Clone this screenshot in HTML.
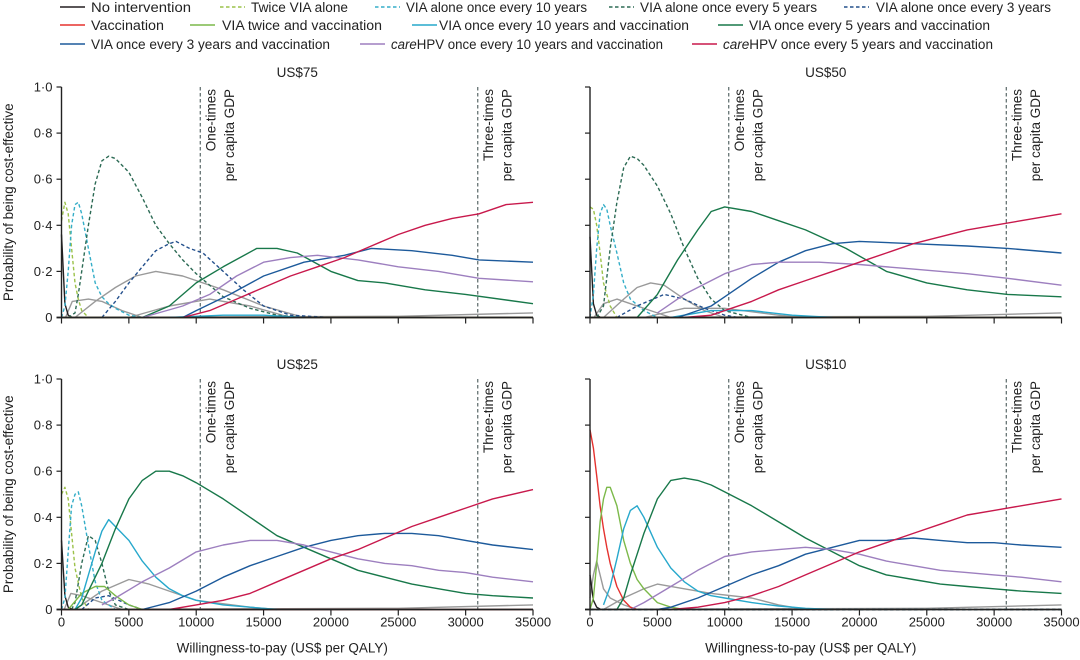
<!DOCTYPE html>
<html><head><meta charset="utf-8">
<style>
body{margin:0;background:#fff;}
svg{display:block;font-family:"Liberation Sans",sans-serif;}
</style></head>
<body>
<svg id="chart" width="1080" height="660" viewBox="0 0 1080 660" xmlns="http://www.w3.org/2000/svg">
<g id="legend" font-size="13.5" fill="#222"></g>
<g id="panels"></g>
</svg>
<script>
// ---------- data ----------
const xTicks = [0,5000,10000,15000,20000,25000,30000,35000];
const xTickLabels = ["0","5000","10000","15000","20000","25000","30000","35000"];
const yTicks = [0,0.2,0.4,0.6,0.8,1.0];
const yTickLabels = ["0","0·2","0·4","0·6","0·8","1·0"];
const gdpLines = [10300,30900];
const panelTitles = ["US$75","US$50","US$25","US$10"];

const seriesNames = ["No intervention","Twice VIA alone","VIA alone once every 10 years","VIA alone once every 5 years","VIA alone once every 3 years","Vaccination","VIA twice and vaccination","VIA once every 10 years and vaccination","VIA once every 5 years and vaccination","VIA once every 3 years and vaccination","careHPV once every 10 years and vaccination","careHPV once every 5 years and vaccination"];
const seriesColors = ["#231f20","#9cc24a","#35aec8","#2d6b55","#24508c","#e5322f","#7cb94a","#27a8cc","#18784a","#1d5a9b","#9d7fbf","#c8194c"];
const seriesDashed = [false,true,true,true,true,false,false,false,false,false,false,false];

// ---- US$75 ----
const p75_noInt = [[0,0.36],[250,0.06],[500,0.01],[800,0]];
const p75_twice = [[0,0.42],[250,0.5],[500,0.45],[750,0.3],[1000,0.15],[1250,0.08],[1500,0.03],[2000,0]];
const p75_via10 = [[0,0],[250,0.05],[500,0.2],[750,0.4],[1000,0.49],[1250,0.5],[1500,0.45],[2000,0.3],[2500,0.15],[3000,0.09],[3500,0.06],[4000,0.04],[5000,0.01],[6000,0]];
const p75_via5 = [[500,0],[1000,0.02],[1250,0.1],[1500,0.2],[2000,0.4],[2500,0.58],[3000,0.68],[3500,0.7],[4000,0.69],[5000,0.63],[6000,0.52],[7000,0.4],[8000,0.32],[9000,0.25],[10000,0.19],[12000,0.09],[14000,0.04],[16000,0.01],[18000,0]];
const p75_via3 = [[3000,0],[4000,0.07],[5000,0.15],[6000,0.22],[7000,0.29],[8000,0.32],[8500,0.33],[9500,0.3],[10500,0.28],[12000,0.2],[13500,0.12],[15000,0.05],[17000,0.01],[20000,0]];
const p75_vac = [[0,0],[35000,0]];
const p75_twiceVac = [[0,0],[35000,0]];
const p75_via10Vac = [[8000,0],[12000,0.01],[15000,0.01],[18000,0]];
const p75_via5Vac = [[6000,0],[8000,0.05],[10000,0.15],[12000,0.22],[14500,0.3],[16000,0.3],[17500,0.28],[20000,0.2],[22000,0.16],[24000,0.15],[27000,0.12],[30000,0.1],[35000,0.06]];
const p75_via3Vac = [[9000,0],[10000,0.03],[12500,0.1],[15000,0.18],[18000,0.24],[21000,0.27],[23000,0.3],[26000,0.29],[29000,0.27],[31000,0.25],[35000,0.24]];
const p75_hpv10 = [[6000,0],[9000,0.05],[11000,0.1],[13000,0.18],[15000,0.24],[17000,0.26],[19000,0.27],[22000,0.25],[25000,0.22],[28000,0.2],[31000,0.17],[35000,0.155]];
const p75_hpv5 = [[9000,0],[11000,0.03],[13000,0.08],[15000,0.13],[17000,0.18],[19000,0.22],[21000,0.26],[23000,0.31],[25000,0.36],[27000,0.4],[29000,0.43],[31000,0.45],[33000,0.49],[35000,0.5]];
const p75_grayA = [[1000,0],[2500,0.07],[4000,0.13],[5500,0.18],[7000,0.2],[9000,0.18],[12000,0.12],[15000,0.05],[18000,0]];
const p75_grayB = [[300,0],[800,0.07],[2000,0.08],[3000,0.07],[4500,0.03],[6000,0]];
const p75_grayC = [[5000,0],[8000,0.05],[11000,0.08],[14000,0.05],[17000,0]];
const p75_grayD = [[0,0],[25000,0.005],[35000,0.02]];

// ---- US$50 ----
const p50_noInt = [[0,0.35],[250,0.06],[500,0.01],[800,0]];
const p50_twice = [[0,0.48],[250,0.47],[500,0.4],[750,0.28],[1000,0.15],[1500,0.05],[2000,0]];
const p50_via10 = [[0,0],[250,0.1],[500,0.3],[750,0.45],[1000,0.49],[1250,0.47],[1500,0.4],[2000,0.28],[2500,0.15],[3000,0.08],[4000,0.03],[5000,0]];
const p50_via5 = [[500,0],[1000,0.05],[1500,0.3],[2000,0.5],[2500,0.65],[3000,0.7],[3500,0.69],[4000,0.66],[5000,0.57],[6000,0.45],[7000,0.3],[8000,0.17],[9000,0.08],[10000,0.03],[12000,0]];
const p50_via3 = [[2000,0],[3500,0.05],[5500,0.1],[7000,0.08],[8500,0.04],[10000,0.01],[11000,0]];
const p50_vac = [[0,0],[35000,0]];
const p50_twiceVac = [[0,0],[35000,0]];
const p50_via10Vac = [[6000,0],[9000,0.03],[12000,0.03],[15000,0.01],[18000,0]];
const p50_via5Vac = [[3500,0],[5000,0.1],[6500,0.25],[8000,0.38],[9000,0.46],[10000,0.48],[12000,0.46],[14000,0.42],[16000,0.38],[19000,0.3],[22000,0.2],[25000,0.15],[28000,0.12],[31000,0.1],[35000,0.09]];
const p50_via3Vac = [[6500,0],[9000,0.05],[10000,0.09],[12000,0.17],[14000,0.24],[16000,0.29],[18000,0.32],[20000,0.33],[24000,0.32],[28000,0.31],[31000,0.3],[35000,0.28]];
const p50_hpv10 = [[5000,0.02],[7000,0.1],[9000,0.16],[10000,0.19],[12000,0.23],[14000,0.24],[17000,0.24],[20000,0.23],[24000,0.21],[28000,0.19],[31000,0.17],[35000,0.14]];
const p50_hpv5 = [[7000,0],[9000,0.01],[10000,0.03],[12000,0.07],[14000,0.12],[16000,0.16],[18000,0.2],[20000,0.24],[22000,0.28],[24000,0.32],[26000,0.35],[28000,0.38],[30000,0.4],[32000,0.42],[35000,0.45]];
const p50_grayA = [[1000,0],[2500,0.08],[3500,0.13],[4500,0.15],[5500,0.14],[7000,0.08],[8500,0.03],[10000,0]];
const p50_grayB = [[300,0],[1000,0.06],[2000,0.08],[3000,0.06],[4500,0.03],[6000,0]];
const p50_grayC = [[4000,0],[7000,0.04],[10000,0.04],[14000,0.01],[16000,0]];
const p50_grayD = [[0,0],[25000,0.005],[35000,0.02]];

// ---- US$25 ----
const p25_noInt = [[0,0.3],[250,0.06],[500,0.01],[800,0]];
const p25_twice = [[0,0.5],[250,0.53],[500,0.48],[750,0.33],[1000,0.18],[1500,0.05],[2000,0]];
const p25_via10 = [[0,0],[250,0.05],[500,0.25],[750,0.45],[1000,0.5],[1250,0.51],[1500,0.45],[2000,0.28],[2500,0.12],[3000,0.04],[4000,0]];
const p25_via5 = [[750,0],[1000,0.03],[1500,0.2],[2000,0.32],[2500,0.3],[3000,0.2],[3500,0.08],[4000,0.02],[5000,0]];
const p25_via3 = [[1500,0],[2500,0.05],[3500,0.06],[5000,0.02],[6000,0]];
const p25_vac = [[0,0],[35000,0]];
const p25_twiceVac = [[500,0],[1500,0.07],[2500,0.1],[3200,0.1],[4000,0.06],[5000,0.02],[6000,0]];
const p25_via10Vac = [[1000,0],[1500,0.05],[2000,0.15],[2500,0.25],[3000,0.34],[3500,0.39],[4000,0.36],[5000,0.3],[6000,0.21],[7000,0.14],[8000,0.09],[9000,0.06],[10000,0.04],[12000,0.02],[14000,0.01],[16000,0]];
const p25_via5Vac = [[1000,0],[1500,0.02],[2000,0.08],[3000,0.2],[4000,0.35],[5000,0.48],[6000,0.56],[7000,0.6],[8000,0.6],[9000,0.58],[10000,0.55],[12000,0.48],[14000,0.4],[16000,0.32],[18000,0.27],[20000,0.22],[22000,0.17],[24000,0.14],[26000,0.11],[28000,0.09],[30000,0.07],[32000,0.06],[35000,0.05]];
const p25_via3Vac = [[6000,0],[8000,0.03],[10000,0.08],[12000,0.14],[14000,0.19],[16000,0.23],[18000,0.27],[20000,0.3],[22000,0.32],[24000,0.33],[26000,0.33],[28000,0.32],[30000,0.3],[32000,0.28],[35000,0.26]];
const p25_hpv10 = [[3000,0.02],[4000,0.05],[6000,0.12],[8000,0.18],[10000,0.25],[12000,0.28],[14000,0.3],[16000,0.3],[18000,0.28],[20000,0.25],[22000,0.22],[24000,0.2],[26000,0.19],[28000,0.17],[30000,0.16],[32000,0.14],[35000,0.12]];
const p25_hpv5 = [[8000,0],[10000,0.02],[12000,0.04],[14000,0.07],[16000,0.12],[18000,0.17],[20000,0.22],[22000,0.26],[24000,0.31],[26000,0.36],[28000,0.4],[30000,0.44],[32000,0.48],[35000,0.52]];
const p25_grayA = [[1000,0],[3000,0.08],[5000,0.13],[6500,0.11],[8000,0.08],[10000,0.04],[14000,0.01],[16000,0]];
const p25_grayB = [[200,0],[700,0.07],[1500,0.06],[3000,0.03],[4500,0]];
const p25_grayC = [[0,0],[25000,0.005],[35000,0.02]];

// ---- US$10 ----
const p10_noInt = [[0,0.15],[250,0.04],[500,0.01],[800,0]];
const p10_twice = [[0,0],[35000,0]];
const p10_via10 = [[0,0],[35000,0]];
const p10_via5 = [[0,0],[35000,0]];
const p10_via3 = [[0,0],[35000,0]];
const p10_vac = [[0,0.78],[250,0.7],[500,0.58],[750,0.45],[1000,0.35],[1250,0.27],[1500,0.2],[2000,0.1],[2500,0.04],[3000,0.01],[3500,0]];
const p10_twiceVac = [[0,0],[250,0.05],[500,0.2],[750,0.38],[1000,0.48],[1250,0.53],[1500,0.53],[2000,0.45],[2500,0.3],[3000,0.2],[3500,0.13],[4000,0.09],[5000,0.03],[6000,0.01],[7000,0]];
const p10_via10Vac = [[1000,0.02],[1500,0.1],[2000,0.22],[2500,0.35],[3000,0.43],[3500,0.45],[4000,0.4],[5000,0.27],[6000,0.18],[7000,0.12],[8000,0.08],[9000,0.06],[10000,0.05],[12000,0.03],[14000,0.015],[16000,0.005],[18000,0]];
const p10_via5Vac = [[2000,0],[2500,0.05],[3000,0.15],[4000,0.33],[5000,0.48],[6000,0.56],[7000,0.57],[8000,0.56],[9000,0.54],[10000,0.51],[12000,0.45],[14000,0.38],[16000,0.31],[18000,0.25],[20000,0.19],[22000,0.15],[24000,0.13],[26000,0.11],[28000,0.1],[30000,0.09],[32000,0.08],[35000,0.07]];
const p10_via3Vac = [[5000,0],[6000,0.01],[8000,0.05],[10000,0.1],[12000,0.15],[14000,0.19],[16000,0.24],[18000,0.27],[20000,0.3],[22000,0.3],[24000,0.31],[26000,0.3],[28000,0.29],[30000,0.29],[32000,0.28],[35000,0.27]];
const p10_hpv10 = [[3000,0],[4000,0.03],[6000,0.1],[8000,0.17],[10000,0.23],[12000,0.25],[14000,0.26],[16000,0.27],[18000,0.26],[20000,0.24],[22000,0.21],[24000,0.19],[26000,0.17],[28000,0.16],[30000,0.15],[32000,0.14],[35000,0.12]];
const p10_hpv5 = [[6000,0],[8000,0.01],[10000,0.03],[12000,0.06],[14000,0.1],[16000,0.15],[18000,0.2],[20000,0.25],[22000,0.29],[24000,0.33],[26000,0.37],[28000,0.41],[30000,0.43],[32000,0.45],[35000,0.48]];
const p10_grayA = [[0,0.05],[250,0.15],[500,0.21],[750,0.15],[1000,0.09],[1500,0.05],[2500,0.02],[3500,0]];
const p10_grayB = [[1000,0],[2500,0.05],[4000,0.09],[5000,0.11],[7000,0.09],[9000,0.07],[12000,0.05],[14000,0.02],[16000,0]];
const p10_grayC = [[0,0],[25000,0.005],[35000,0.02]];

const panelSeries = [
  [p75_noInt,p75_twice,p75_via10,p75_via5,p75_via3,p75_vac,p75_twiceVac,p75_via10Vac,p75_via5Vac,p75_via3Vac,p75_hpv10,p75_hpv5],
  [p50_noInt,p50_twice,p50_via10,p50_via5,p50_via3,p50_vac,p50_twiceVac,p50_via10Vac,p50_via5Vac,p50_via3Vac,p50_hpv10,p50_hpv5],
  [p25_noInt,p25_twice,p25_via10,p25_via5,p25_via3,p25_vac,p25_twiceVac,p25_via10Vac,p25_via5Vac,p25_via3Vac,p25_hpv10,p25_hpv5],
  [p10_noInt,p10_twice,p10_via10,p10_via5,p10_via3,p10_vac,p10_twiceVac,p10_via10Vac,p10_via5Vac,p10_via3Vac,p10_hpv10,p10_hpv5]
];
const panelGray = [
  [p75_grayA,p75_grayB,p75_grayC,p75_grayD],
  [p50_grayA,p50_grayB,p50_grayC,p50_grayD],
  [p25_grayA,p25_grayB,p25_grayC],
  [p10_grayA,p10_grayB,p10_grayC]
];

// ---------- layout ----------
const NS = "http://www.w3.org/2000/svg";
const panelBoxes = [
  {x0:61.5,x1:533,y0:317.5,y1:87,bottom:false,left:true},
  {x0:590,x1:1061.5,y0:317.5,y1:87,bottom:false,left:false},
  {x0:61.5,x1:533,y0:609.5,y1:379,bottom:true,left:true},
  {x0:590,x1:1061.5,y0:609.5,y1:379,bottom:true,left:false}
];
function mk(tag, attrs, parent){
  const e = document.createElementNS(NS, tag);
  for (const k in attrs) e.setAttribute(k, attrs[k]);
  if (parent) parent.appendChild(e);
  return e;
}

// legend layout: [lineX, textX, textEnd, y]
const legendPos = [
  [60,91,191,7],[220,251,348,7],[375,406,587,7],[609,640,817,7],[844,876,1051,7],
  [60,91,164,25],[190,222,382,25],[412,439,689,25],[718,749,990,25],
  [60,91,330,44],[360,391,663,44],[692,723,993,44]
];
const legend = document.getElementById('legend');
seriesNames.forEach((nm,si)=>{
  const [lx,tx,te,ly] = legendPos[si];
  const g = mk('g',{},legend);
  
  
  const ln = mk('line',{x1:lx,y1:ly,x2:lx+25,y2:ly,stroke:seriesColors[si],'stroke-width':1.6},g);
  if (seriesDashed[si]) ln.setAttribute('stroke-dasharray','3.5 2.5');
  const t = mk('text',{x:tx,y:ly+4.8,textLength:te-tx,lengthAdjust:'spacingAndGlyphs'},g);
  if (nm.startsWith('careHPV')) {
    const it = mk('tspan',{'font-style':'italic'},t); it.textContent='care';
    const rest = mk('tspan',{},t); rest.textContent = nm.slice(4);
  } else t.textContent = nm;
});

const panelsG = document.getElementById('panels');
panelBoxes.forEach((b,pi)=>{
  const g = mk('g',{},panelsG);
  
  
  const sx = v => b.x0 + (v/35000)*(b.x1-b.x0);
  const sy = v => b.y0 - v*(b.y0-b.y1);

  const title = mk('text',{x:(b.x0+b.x1)/2,y:b.y1-10,'text-anchor':'middle','font-size':13.5,fill:'#222'},g);
  
  
  title.textContent = panelTitles[pi];

  gdpLines.forEach((gx,gi)=>{
    const l = mk('line',{x1:sx(gx),x2:sx(gx),y1:b.y1,y2:b.y0,stroke:'#4a5a5a','stroke-width':1.1,'stroke-dasharray':'3.5 2.5'},g);
    
    
    const lab = gi===0 ? ["One-times","per capita GDP"] : ["Three-times","per capita GDP"];
    lab.forEach((s,li)=>{
      const tx = sx(gx)+15+li*18.5;
      const t = mk('text',{x:tx,y:b.y1+2,transform:`rotate(-90 ${tx} ${b.y1+2})`,'text-anchor':'end','font-size':13.5,fill:'#222'},g);
      
      
      t.textContent = s;
    });
  });

  panelGray[pi].forEach(d=>{
    const p = mk('polyline',{points:d.map(q=>sx(q[0]).toFixed(1)+','+sy(q[1]).toFixed(1)).join(' '),fill:'none',stroke:'#9a9a9a','stroke-width':1.4,'stroke-linejoin':'round'},g);
    
    
  });
  panelSeries[pi].forEach((d,si)=>{
    const p = mk('polyline',{points:d.map(q=>sx(q[0]).toFixed(1)+','+sy(q[1]).toFixed(1)).join(' '),fill:'none',stroke:seriesColors[si],'stroke-width':1.4,'stroke-linejoin':'round'},g);
    if (seriesDashed[si]) p.setAttribute('stroke-dasharray','3.5 2.5');
    
    
  });

  const ya = mk('line',{x1:b.x0,x2:b.x0,y1:b.y1,y2:b.y0,stroke:'#222','stroke-width':1.4},g);
  
  
  const xa = mk('line',{x1:b.x0-5,x2:b.x1,y1:b.y0,y2:b.y0,stroke:'#222','stroke-width':1.8},g);
  
  
  yTicks.forEach((v,i)=>{
    mk('line',{x1:b.x0-5,x2:b.x0,y1:sy(v),y2:sy(v),stroke:'#222','stroke-width':1.2},g);
    if (b.left) {
      const t = mk('text',{x:b.x0-9,y:sy(v)+4.5,'text-anchor':'end','font-size':13,fill:'#222'},g);
      
      
      t.textContent = yTickLabels[i];
    }
  });
  xTicks.forEach((v,i)=>{
    mk('line',{x1:sx(v),x2:sx(v),y1:b.y0,y2:b.y0+6,stroke:'#222','stroke-width':1.2},g);
    if (b.bottom) {
      const t = mk('text',{x:sx(v),y:b.y0+17,'text-anchor':'middle','font-size':13,fill:'#222'},g);
      
      
      t.textContent = xTickLabels[i];
    }
  });
  if (b.bottom) {
    const t = mk('text',{x:(b.x0+b.x1)/2-15,y:b.y0+43,'text-anchor':'middle','font-size':13.5,fill:'#222'},g);
    
    
    t.textContent = 'Willingness-to-pay (US$ per QALY)';
  }
  if (b.left) {
    const cy = (b.y0+b.y1)/2;
    const t = mk('text',{x:13,y:cy,transform:`rotate(-90 13 ${cy})`,'text-anchor':'middle','font-size':13.5,fill:'#222'},g);
    
    
    t.textContent = 'Probability of being cost-effective';
  }
});
</script>
</body></html>
